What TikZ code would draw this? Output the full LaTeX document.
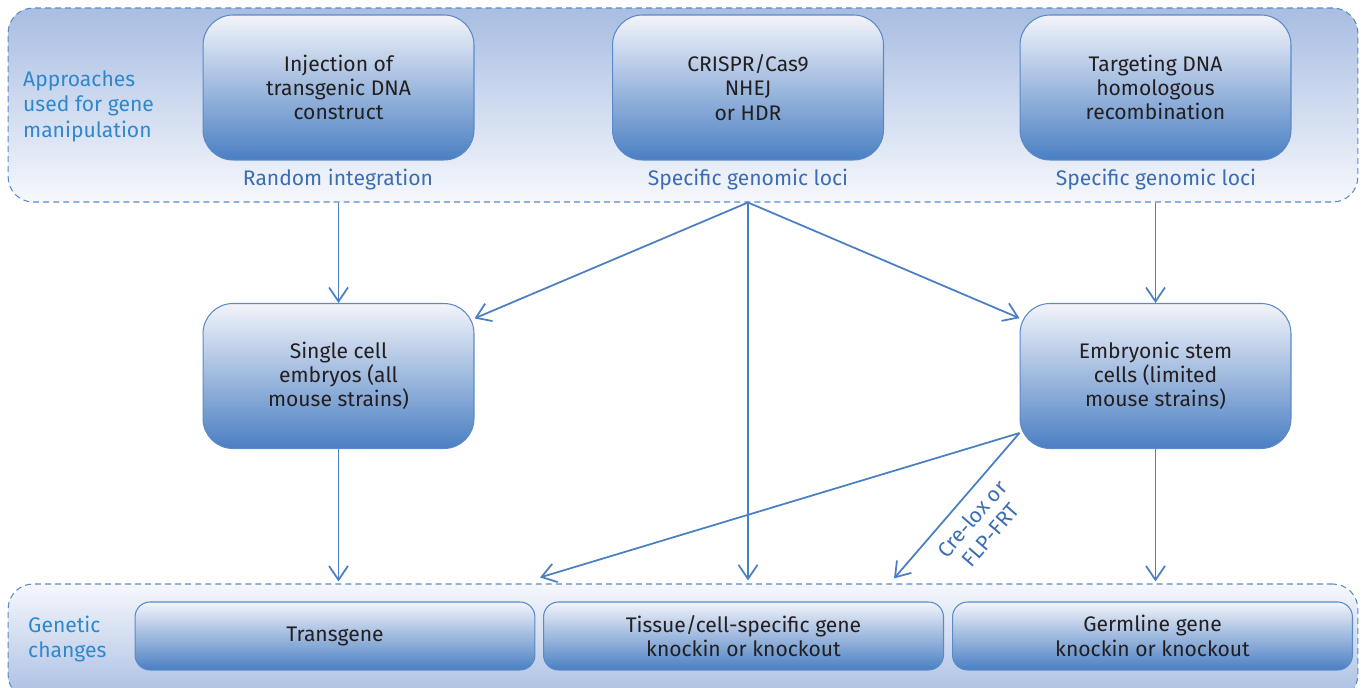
\documentclass[tikz,border=0pt]{standalone}
\usepackage{fontspec}
\setmainfont{Fira Sans}
\usepackage{tikz}
\usetikzlibrary{arrows.meta,calc,positioning}

\definecolor{boxblue}{HTML}{4A7FC3}
\definecolor{boxtop}{HTML}{F3F4FA}
\definecolor{panelblue}{HTML}{A8BDE2}
\definecolor{paneltop}{HTML}{F6F8FC}
\definecolor{edgeblue}{HTML}{5A8AC8}
\definecolor{labelblue}{HTML}{3C6DB4}
\definecolor{sideblue}{HTML}{2F88CC}
\definecolor{textgrey}{HTML}{231F20}

\newcommand{\genefont}{\fontsize{12}{13.8}\selectfont}

\tikzset{
  >={Straight Barb[length=2.8mm,width=3.8mm]},
  panel/.style={draw=edgeblue, line width=0.6pt, dash pattern=on 3.4pt off 2.3pt,
                rounded corners=0.5cm, minimum width=27cm},
  genebox/.style={draw=edgeblue, line width=0.6pt, top color=boxtop, bottom color=boxblue,
                  text=textgrey, align=center, font=\genefont,
                  minimum width=5.42cm, minimum height=2.9cm, rounded corners=0.6cm},
  changebox/.style={genebox, minimum width=8cm, minimum height=1.36cm, rounded corners=0.3cm},
  sidelabel/.style={text=sideblue, align=left, anchor=west, font=\fontsize{12}{14.5}\selectfont},
  lociname/.style={text=labelblue, font=\genefont}
}
\tikzstyle{line} = [draw, line width=1pt, color=boxblue, ->]
\newcommand{\genestep}[2]{node (#1) [genebox] {#2}}

\begin{document}
\begin{tikzpicture}[x=0.02cm, y=-0.02cm]
  \useasboundingbox (0,0) rectangle (1362,688);
  \clip (0,0) rectangle (1362,688);

  % Draw the two panels
  \node (approaches) [panel, top color=panelblue, bottom color=paneltop, minimum height=3.88cm] at (683,105) {};
  \node (genetic) [panel, top color=paneltop, bottom color=panelblue, minimum height=2.32cm] at (683,642) {};
  \node (apptext) [sidelabel] at (17,106) {Approaches\\used for gene\\manipulation};
  \node (gentext) [sidelabel] at (22,639) {Genetic\\changes};

  % Draw diagram elements
  \path (338.5,87.5) \genestep{inj}{Injection of\\transgenic DNA\\construct};
  \path (748,87.5) \genestep{crispr}{CRISPR/Cas9\\NHEJ\\or HDR};
  \path (1155.5,87.5) \genestep{targeting}{Targeting DNA\\homologous\\recombination};
  \path (338.5,376) \genestep{single}{Single cell\\embryos (all\\mouse strains)};
  \path (1155.5,376) \genestep{es}{Embryonic stem\\cells (limited\\mouse strains)};

  \node (random) [lociname] at (338,180) {Random integration};
  \node (loci1) [lociname] at (748,180) {Specific genomic loci};
  \node (loci2) [lociname] at (1156,180) {Specific genomic loci};

  \node (transgene) [changebox] at (335,636) {Transgene};
  \node (tissue) [changebox] at (743.5,636) {Tissue/cell-specific gene\\knockin or knockout};
  \node (germline) [changebox] at (1152.5,636) {Germline gene\\knockin or knockout};

  % Draw arrows between elements
  \coordinate (fork) at (crispr |- approaches.south);
  \coordinate (esout) at ($(es.south west)+(0,-16)$);
  \path [line] (inj |- approaches.south) -- (single);
  \path [line] (fork) -- (single);
  \path [line] (fork) -- (es);
  \path [line] (fork) -- ($(fork |- genetic.north)+(0,-3)$);
  \path [line] (targeting |- approaches.south) -- (es);
  \path [line] (single.south) -- ($(single.south |- genetic.north)+(0,-2)$);
  \path [line] (es.south) -- ($(es.south |- genetic.north)+(0,-2)$);
  \path [line] (esout) -- ($(tissue.north west |- genetic.north)+(-3,-6)$);
  \path [line] (esout) -- node [midway, sloped, below=3pt, align=center, text=labelblue, font=\genefont] {Cre-lox or\\FLP-FRT}
        ($(tissue.north east |- genetic.north)+(-50,-5)$);
\end{tikzpicture}
\end{document}
